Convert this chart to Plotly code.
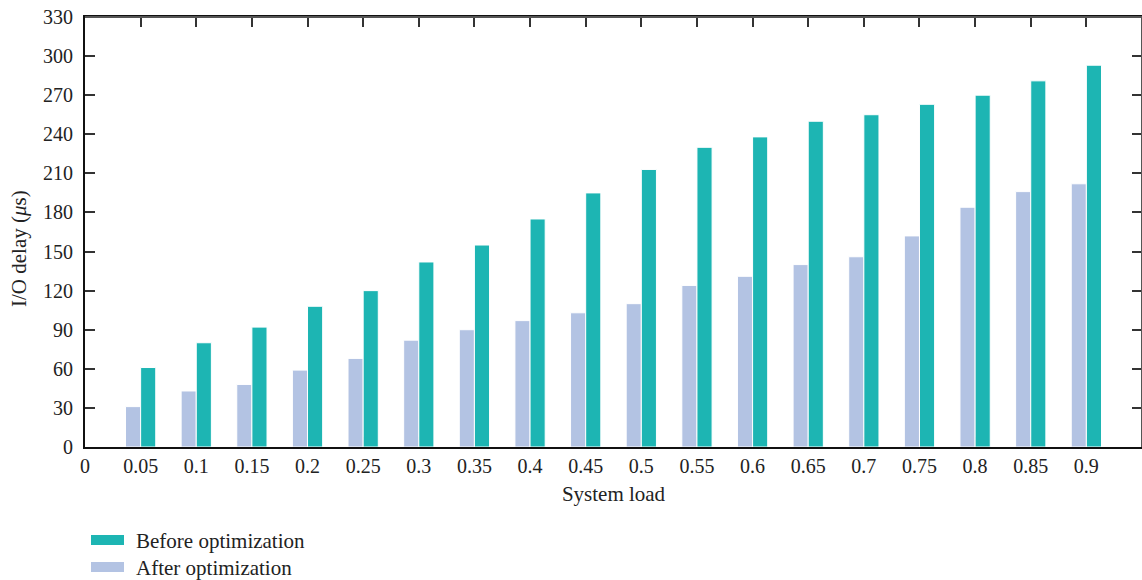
import plotly.graph_objects as go

loads = [0.05, 0.1, 0.15, 0.2, 0.25, 0.3, 0.35, 0.4, 0.45, 0.5, 0.55, 0.6, 0.65, 0.7, 0.75, 0.8, 0.85, 0.9]
before_opt = [61, 80, 92, 108, 120, 142, 155, 175, 195, 213, 230, 238, 250, 255, 263, 270, 281, 293]
after_opt = [31, 43, 48, 59, 68, 82, 90, 97, 103, 110, 124, 131, 140, 146, 162, 184, 196, 202]
x_tickvals = [0] + loads
x_ticktext = ["0", "0.05", "0.1", "0.15", "0.2", "0.25", "0.3", "0.35", "0.4", "0.45", "0.5",
              "0.55", "0.6", "0.65", "0.7", "0.75", "0.8", "0.85", "0.9"]
y_tickvals = list(range(0, 331, 30))
names = ["Before optimization", "After optimization"]
colors = ["#1db5b3", "#b3c3e3"]

FONT = "Liberation Serif"
BW = 0.0136

fig = go.Figure()
fig.add_trace(go.Bar(x=loads, y=after_opt, name=names[1], width=BW, offset=-BW,
                     marker=dict(color=colors[1], line=dict(color="white", width=1)),
                     showlegend=False))
fig.add_trace(go.Bar(x=loads, y=before_opt, name=names[0], width=BW, offset=0,
                     marker=dict(color=colors[0], line=dict(color="white", width=1)),
                     showlegend=False))

L, R, T, B = 85, 1142, 17, 447
W, H = R - L, B - T
def px(x):
    return (x - L) / W
def py(y):
    return (B - y) / H

# top and right frame lines (grey, as in the reference)
fig.add_shape(type="line", xref="paper", yref="paper", x0=0, x1=1, y0=1, y1=1,
              line=dict(color="#555", width=2))
fig.add_shape(type="line", xref="paper", yref="paper", x0=1, x1=1, y0=0, y1=1,
              line=dict(color="#555", width=2))

# manual legend (wide swatches as in the reference)
for i, (nm, col) in enumerate(zip(names, colors)):
    cy = 540 + 27 * i
    fig.add_shape(type="rect", xref="paper", yref="paper",
                  x0=px(91), x1=px(124), y0=py(cy - 5), y1=py(cy + 5),
                  fillcolor=col, line=dict(width=0))
    fig.add_annotation(xref="paper", yref="paper", x=px(134), y=py(cy + 1), text=nm,
                       showarrow=False, xanchor="left", yanchor="middle",
                       font=dict(family=FONT, size=21, color="#222"))

# y-axis title
fig.add_annotation(xref="paper", yref="paper", x=px(19), y=py(249), text="I/O delay (<i>μ</i>s)",
                   textangle=-90, showarrow=False, xanchor="center", yanchor="middle",
                   font=dict(family=FONT, size=21, color="#222"))

fig.update_layout(
    width=1142, height=580,
    margin=dict(l=L, r=1142 - R, t=T, b=580 - B, autoexpand=False),
    plot_bgcolor="white", paper_bgcolor="white",
    barmode="overlay",
    font=dict(family=FONT, size=20, color="#222"),
    showlegend=False,
)
fig.update_xaxes(range=[0, 0.95], tickvals=x_tickvals, ticktext=x_ticktext,
                 ticks="inside", ticklen=10, tickcolor="#333", tickwidth=1.5,
                 showline=True, linecolor="#111", linewidth=2, mirror="ticks",
                 layer="below traces",
                 showgrid=False, zeroline=False, tickfont=dict(size=20),
                 title=dict(text="System load", font=dict(family=FONT, size=21), standoff=10))
fig.update_yaxes(range=[0, 330], tickvals=y_tickvals,
                 ticks="inside", ticklen=10, tickcolor="#333", tickwidth=1.5,
                 showline=True, linecolor="#111", linewidth=2, mirror="ticks",
                 ticklabelstandoff=6,
                 showgrid=False, zeroline=False, tickfont=dict(size=20))

fig.write_html("out.html", config={"displayModeBar": False},
               post_script="document.body.style.margin='0';")
